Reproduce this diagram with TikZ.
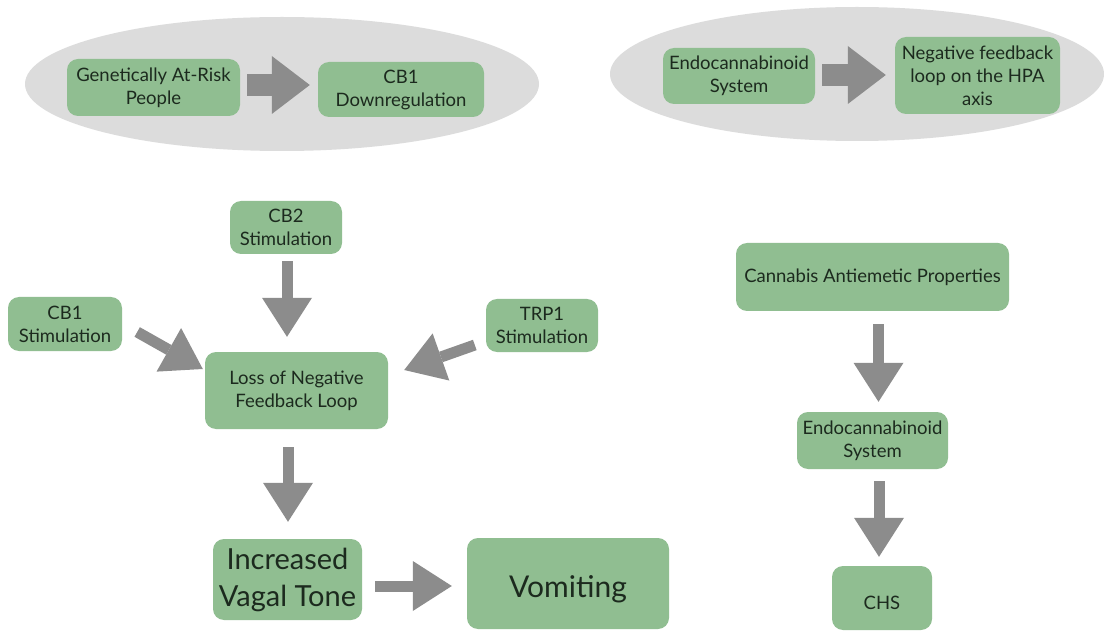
\documentclass[tikz,border=0pt]{standalone}
\usepackage{fontspec}
\setmainfont{Lato}
\usetikzlibrary{arrows.meta,calc}
\definecolor{boxgreen}{HTML}{90BE91}
\definecolor{txt}{HTML}{1C2A1E}
\definecolor{arrowgray}{HTML}{8C8C8C}
\definecolor{ellgray}{HTML}{DCDCDC}
\tikzset{
  box/.style={fill=boxgreen, rounded corners=11pt, align=center, text=txt,
    inner sep=0pt, font=\fontsize{18.5}{23}\selectfont},
  bigtext/.style={font=\fontsize{29}{37}\selectfont},
  fatarrow/.style={draw=arrowgray, line width=22pt,
    -{Triangle[width=58pt,length=38pt,line width=0pt]}},
  slimarrow/.style={draw=arrowgray, line width=11pt,
    -{Triangle[width=50pt,length=39pt,line width=0pt]}},
  grp/.style={fill=ellgray, draw=none}
}
\begin{document}
\begin{tikzpicture}[x=1pt,y=-1pt]
\useasboundingbox (0,0) rectangle (1104,631);
\fill[white] (0,0) rectangle (1104,631);
% group ellipses
\fill[grp] (282,84) ellipse [x radius=257, y radius=67];
\fill[grp] (857,74) ellipse [x radius=247, y radius=67];
% nodes
\node[box, minimum width=173, minimum height=57] (gen) at (153.5,87.5) {Genetically At-Risk\\People};
\node[box, minimum width=166, minimum height=55] (cbd) at (401,89.5) {CB1\\Downregulation};
\node[box, minimum width=152, minimum height=56] (ecs1) at (739,76) {Endocannabinoid\\System};
\node[box, minimum width=165, minimum height=77] (nfb) at (977.5,75.5) {Negative feedback\\loop on the HPA\\axis};
\node[box, minimum width=112, minimum height=53] (cb2) at (286,227.5) {CB2\\Stimulation};
\node[box, minimum width=114, minimum height=54] (cb1) at (65,324) {CB1\\Stimulation};
\node[box, minimum width=112, minimum height=53] (trp) at (542,325.5) {TRP1\\Stimulation};
\node[box, minimum width=183, minimum height=77] (loss) at (296.5,390.5) {Loss of Negative\\Feedback Loop};
\node[box, bigtext, minimum width=149, minimum height=81] (ivt) at (287.5,579.5) {Increased\\Vagal Tone};
\node[box, minimum width=202, minimum height=91, font=\fontsize{30}{36}\selectfont] (vom) at (568,583.5) {\raisebox{-6pt}[\height][\depth]{Vomiting}};
\node[box, minimum width=273, minimum height=68] (cap) at (872.5,277) {Cannabis Antiemetic Properties};
\node[box, minimum width=151, minimum height=57] (ecs2) at (872.5,440.5) {Endocannabinoid\\System};
\node[box, minimum width=100, minimum height=64] (chs) at (882,598) {\raisebox{-5pt}[\height][\depth]{CHS}};
% connectors
\draw[fatarrow] ($(gen.east)+(7,-2.5)$) -- ($(cbd.west)+(-8,-4.5)$);
\draw[fatarrow] ($(ecs1.east)+(7,-1)$) -- ($(nfb.west)+(-9,-0.5)$);
\draw[slimarrow] ($(cb2.south)+(1,7)$) -- ($(loss.north)+(-9.5,-15)$);
\draw[slimarrow] ($(cb1.east)+(15,8)$) -- ($(loss.west)+(-2,-21.5)$);
\draw[slimarrow] ($(trp.west)+(-11,19.5)$) -- ($(loss.east)+(16,-20.5)$);
\draw[slimarrow] ($(loss.south)+(-8.5,18)$) -- ($(ivt.north)+(0.5,-17)$);
\draw[slimarrow] ($(ivt.east)+(13,6.5)$) -- ($(vom.west)+(-15,2.5)$);
\draw[slimarrow] ($(cap.south)+(6,13)$) -- ($(ecs2.north)+(6,-10)$);
\draw[slimarrow] ($(ecs2.south)+(6.5,12)$) -- ($(chs.north)+(-3,-9)$);
\end{tikzpicture}
\end{document}
